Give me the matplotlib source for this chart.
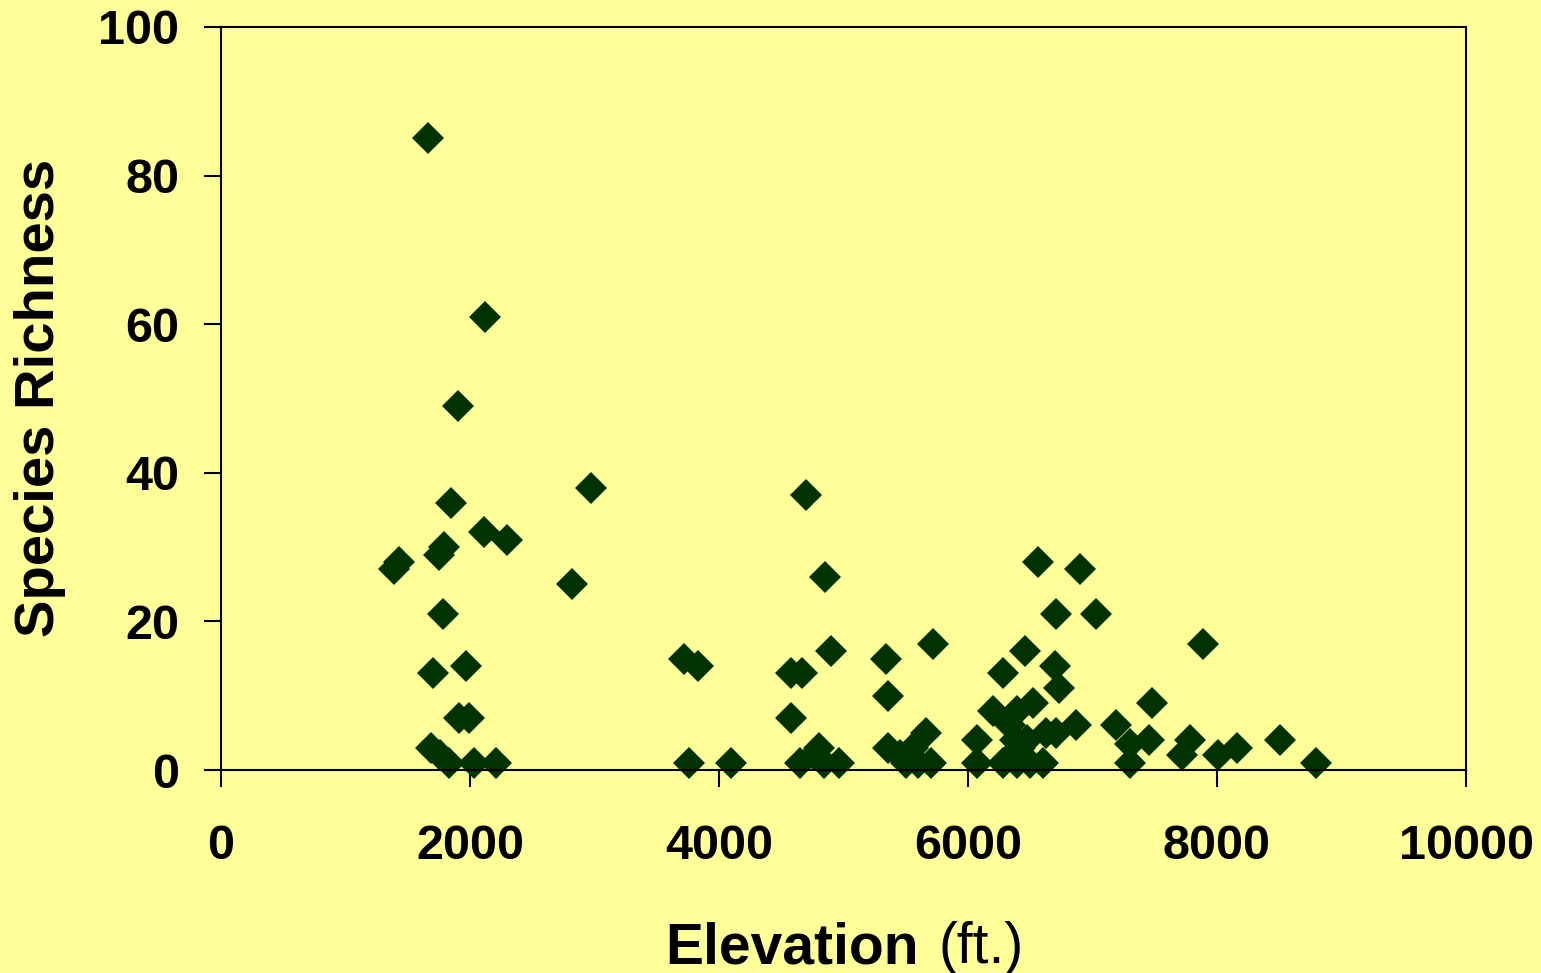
import matplotlib
matplotlib.use("Agg")
import matplotlib.pyplot as plt

elevation = [1660, 2120, 1900, 1850, 2975, 2115, 2300, 1750, 1790, 1430, 1390, 2820,
             1780, 1700, 1965, 1910, 1990, 1690, 1760, 1830, 2030, 2210,
             4700, 4850, 3720, 3830, 4900, 4580, 4670, 4580, 4800, 4760, 3760, 4100,
             4650, 4840, 4960,
             5720, 5340, 5355, 5355, 5450, 5500, 5560, 5660, 5600, 5700,
             6460, 6280, 6700, 6730, 6865, 6070, 6070, 6200, 6560, 6900, 6710, 7030,
             6525, 6390, 6340, 6630, 6710, 6470, 6380, 6285, 6390, 6500, 6600, 6420, 6350,
             7475, 7190, 7300, 7300, 7450, 7890, 7785, 7715, 8005, 8160, 8505, 8795]
richness = [85, 61, 49, 36, 38, 32, 31, 29, 30, 28, 27, 25,
            21, 13, 14, 7, 7, 3, 2, 1, 1, 1,
            37, 26, 15, 14, 16, 13, 13, 7, 3, 2, 1, 1,
            1, 1, 1,
            17, 15, 10, 3, 2, 1, 3, 5, 1, 1,
            16, 13, 14, 11, 6, 4, 1, 8, 28, 27, 21, 21,
            9, 8, 6, 5, 5, 4, 4, 1, 1, 1, 1, 3, 2,
            9, 6, 1, 3.5, 4, 17, 4, 2, 2, 3, 4, 1]

x_ticks = [0, 2000, 4000, 6000, 8000, 10000]
y_ticks = [0, 20, 40, 60, 80, 100]

bg = "#FFFF99"
mk = "#003300"

plt.rcParams['font.family'] = ['Liberation Sans', 'DejaVu Sans']

fig = plt.figure(figsize=(15.41, 9.73), dpi=100, facecolor=bg)
ax = fig.add_axes([221/1541, 1 - 770/973, (1466-221)/1541, (770-27)/973])
ax.set_facecolor(bg)

ax.plot(elevation, richness, linestyle='none', marker='D', markersize=16.5,
        color=mk, markeredgewidth=0, clip_on=False)

ax.set_xlim(0, 10000)
ax.set_ylim(0, 100)
ax.set_xticks(x_ticks)
ax.set_yticks(y_ticks)
ax.set_xticklabels([str(v) for v in x_ticks], fontsize=35, fontweight='bold')
ax.set_yticklabels([str(v) for v in y_ticks], fontsize=35, fontweight='bold')
ax.tick_params(axis='x', direction='out', length=12, width=1.5, pad=27, colors='black')
ax.tick_params(axis='y', direction='out', length=12, width=1.5, pad=18, colors='black')
for s in ax.spines.values():
    s.set_linewidth(1.5)
    s.set_color('black')

fig.text(919/1541, 1 - 963/973, "Elevation", fontsize=41, fontweight='bold',
         ha='right', va='baseline')
fig.text(938/1541, 1 - 963/973, "(ft.)", fontsize=41, fontweight='normal',
         ha='left', va='baseline')
fig.text(40/1541, 1 - 398/973, "Species Richness", fontsize=40.5, fontweight='bold',
         rotation=90, ha='center', va='center')

fig.savefig("out.png", dpi=100, facecolor=bg)
